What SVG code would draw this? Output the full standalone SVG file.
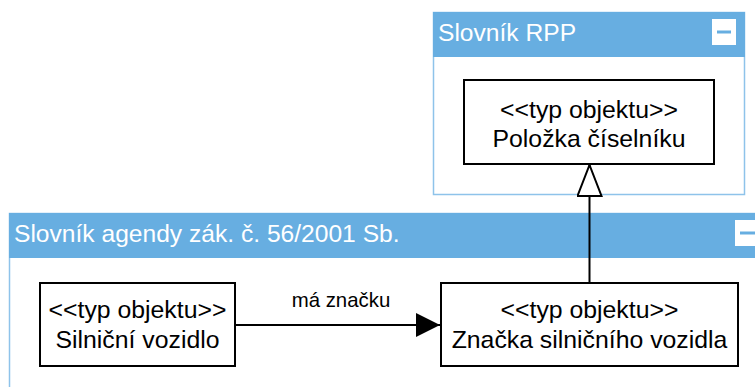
<svg xmlns="http://www.w3.org/2000/svg" width="755" height="387" viewBox="0 0 755 387">
<defs>
<style>
.pkg{fill:#ffffff;stroke:#8ec3ea;stroke-width:1.5}
.hdr{fill:#67aee1}
.ptitle{font-family:"Liberation Sans",Arial,sans-serif;font-size:24.6px;fill:#ffffff}
.node{fill:#ffffff;stroke:#000000;stroke-width:2}
.t{font-family:"Liberation Sans",Arial,sans-serif;font-size:24.8px;fill:#000000;text-anchor:middle}
.lbl{font-family:"Liberation Sans",Arial,sans-serif;font-size:20.4px;fill:#000000;text-anchor:middle}
.btn{fill:#ffffff}
.dash{stroke:#67aee1;stroke-width:3}
.edge{stroke:#000000;stroke-width:2;fill:none}
</style>
<marker id="filled" markerWidth="24" markerHeight="24" refX="24" refY="12" orient="auto" markerUnits="userSpaceOnUse">
<path d="M0,0 L24,12 L0,24 Z" fill="#000000"/>
</marker>
<marker id="hollow" markerWidth="34" markerHeight="28" refX="32" refY="13" orient="auto" markerUnits="userSpaceOnUse">
<path d="M1,1 L32,13 L1,25 Z" fill="#ffffff" stroke="#000000" stroke-width="2"/>
</marker>
</defs>
<g id="pkg-rpp">
<rect class="pkg" x="433.5" y="12.5" width="311" height="182"/>
<rect class="hdr" x="433" y="12" width="312" height="45"/>
<text class="ptitle" x="438" y="41">Slovník RPP</text>
<rect class="btn" x="712" y="19" width="24" height="26"/>
<line class="dash" x1="717" y1="32" x2="731" y2="32"/>
</g>
<g id="pkg-agenda">
<rect class="pkg" x="9.5" y="213.5" width="750" height="180"/>
<rect class="hdr" x="9" y="213" width="750" height="45"/>
<text class="ptitle" x="14" y="242">Slovník agendy zák. č. 56/2001 Sb.</text>
<rect class="btn" x="735" y="220" width="24" height="26"/>
<line class="dash" x1="740" y1="233" x2="760" y2="233"/>
</g>
<g id="node-polozka">
<rect class="node" x="464" y="80" width="250" height="84"/>
<text class="t" x="589" y="118">&lt;&lt;typ objektu&gt;&gt;</text>
<text class="t" x="589" y="147">Položka číselníku</text>
</g>
<g id="node-vozidlo">
<rect class="node" x="40" y="283" width="195" height="83"/>
<text class="t" x="137.5" y="318">&lt;&lt;typ objektu&gt;&gt;</text>
<text class="t" x="137.5" y="348">Silniční vozidlo</text>
</g>
<g id="node-znacka">
<rect class="node" x="441" y="283" width="297" height="83"/>
<text class="t" x="589.5" y="318">&lt;&lt;typ objektu&gt;&gt;</text>
<text class="t" x="589.5" y="348">Značka silničního vozidla</text>
</g>
<g id="connectors">
<line class="edge" x1="235" y1="325" x2="440" y2="325" marker-end="url(#filled)"/>
<text class="lbl" x="341" y="307">má značku</text>
<line class="edge" x1="589.5" y1="283" x2="589.5" y2="165" marker-end="url(#hollow)"/>
</g>
</svg>
